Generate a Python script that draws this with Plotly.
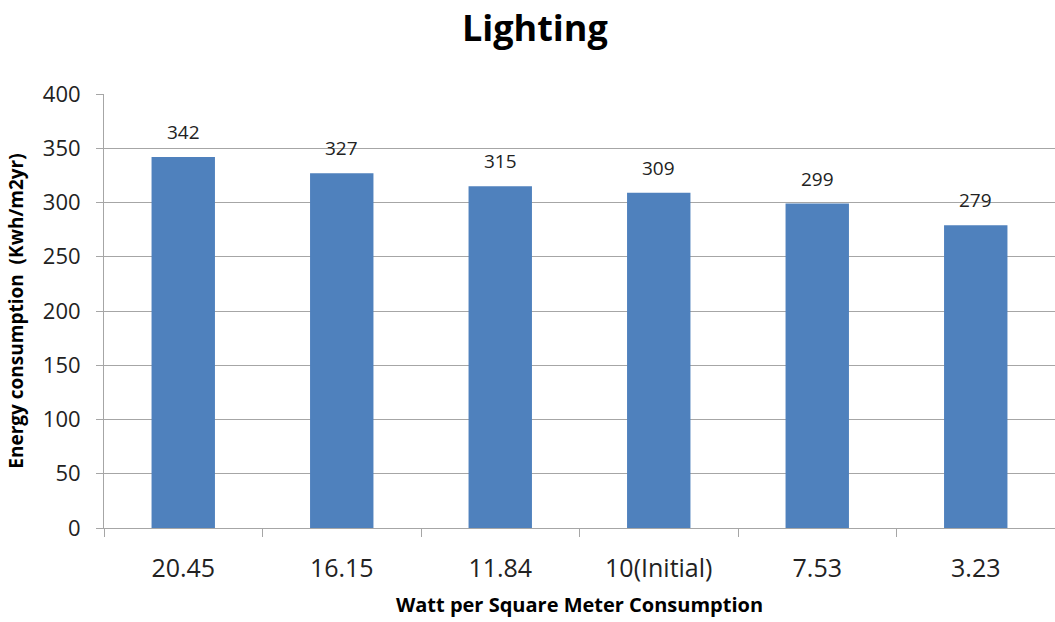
import plotly.graph_objects as go

categories = ["20.45", "16.15", "11.84", "10(Initial)", "7.53", "3.23"]
energy = [342, 327, 315, 309, 299, 279]

FONT = "Open Sans"
GRID = "#A6A6A6"

fig = go.Figure()
fig.add_trace(go.Bar(
    x=categories,
    y=energy,
    width=0.4,
    marker=dict(color="#4F81BD", line=dict(width=0)),
    showlegend=False,
))

# value labels above each bar (category axis: annotation x is the category index)
for i, v in enumerate(energy):
    fig.add_annotation(
        x=i, y=v, xref="x", yref="y", text=str(v), showarrow=False,
        yshift=25, font=dict(family=FONT, size=19, color="#222222"),
    )

fig.update_layout(
    width=1055, height=622,
    margin=dict(l=104, r=0, t=94, b=94),
    paper_bgcolor="white", plot_bgcolor="white",
    bargap=0.6,
    title=dict(
        text="<b>Lighting</b>", x=0.507, xanchor="center",
        y=0.955, yanchor="middle",
        font=dict(family=FONT, size=36, color="black"),
    ),
    xaxis=dict(
        type="category", tickangle=0,
        categoryorder="array", categoryarray=categories,
        range=[-0.5, len(categories) - 0.5],
        showline=True, linecolor=GRID, linewidth=1,
        ticks="outside", tickson="boundaries", ticklen=8, tickcolor=GRID,
        ticklabelstandoff=18,
        tickfont=dict(family=FONT, size=25, color="#222222"),
        title=dict(text="<b>Watt per Square Meter Consumption</b>",
                   font=dict(family=FONT, size=20, color="black"), standoff=14),
        showgrid=False,
    ),
    yaxis=dict(
        range=[0, 400], dtick=50,
        showline=True, linecolor=GRID, linewidth=1,
        ticks="outside", ticklen=7, tickcolor=GRID,
        ticklabelstandoff=11,
        showgrid=True, gridcolor=GRID, gridwidth=1,
        tickfont=dict(family=FONT, size=22, color="#222222"),
        title=dict(text="<b>Energy consumption  (Kwh/m2yr)</b>",
                   font=dict(family=FONT, size=19, color="black"), standoff=14),
        zeroline=False,
    ),
)

fig.write_html("out.html")
